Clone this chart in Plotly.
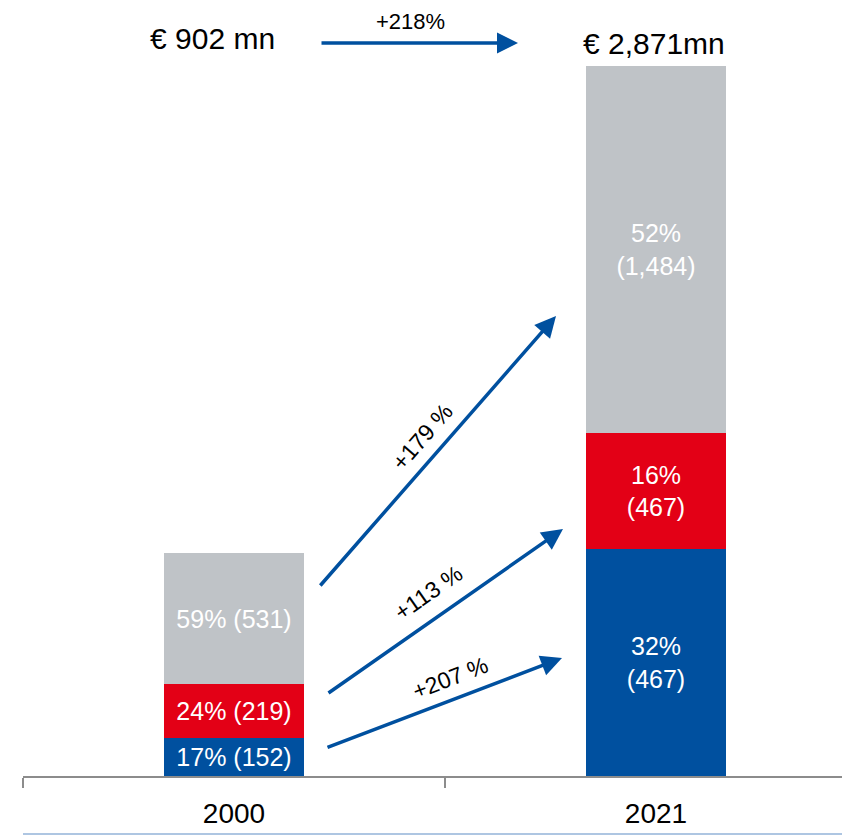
import plotly.graph_objects as go

# Data (EUR mn)
years = ['2000', '2021']
blue_vals = [152, 919]
red_vals = [219, 467]
gray_vals = [531, 1484]
blue_labels = ['17% (152)', '32%<br>(467)']
red_labels = ['24% (219)', '16%<br>(467)']
gray_labels = ['59% (531)', '52%<br>(1,484)']
totals = ['€ 902 mn', '€ 2,871mn']
total_growth = '+218%'
segment_growth = ['+207 %', '+113 %', '+179 %']

BLUE = '#00509F'
RED = '#E30016'
GRAY = '#BFC3C7'
FONT = 'Liberation Sans, Arial, sans-serif'

# Layout geometry; the page body adds an 8px offset, so the figure is 8px smaller
PAGE_OFF = 8
W, H = 850 - PAGE_OFF, 836 - PAGE_OFF
BASE_Y = 776 - PAGE_OFF    # plot bottom (figure px)
L, B = 23 - PAGE_OFF, H - BASE_Y
CAT_W = 422                # pixel distance between categories
X0 = 234                   # page x of first category centre
PX_PER_UNIT = 0.2473
YMAX = BASE_Y / PX_PER_UNIT


def dx(px):
    return (px - X0) / CAT_W


def dy(py):
    return (BASE_Y - (py - PAGE_OFF)) / PX_PER_UNIT


fig = go.Figure()
for vals, labels, color in [(blue_vals, blue_labels, BLUE),
                            (red_vals, red_labels, RED),
                            (gray_vals, gray_labels, GRAY)]:
    fig.add_trace(go.Bar(
        x=years, y=vals, text=labels, width=0.334,
        marker=dict(color=color, line=dict(width=0)),
        textposition='inside', insidetextanchor='middle', textangle=0,
        constraintext='none',
        textfont=dict(family=FONT, size=25, color='white'),
        hoverinfo='skip', showlegend=False,
    ))

annotations = []

# totals above the bars
annotations.append(dict(x=dx(212), y=dy(38), xref='x', yref='y', text=totals[0],
                        showarrow=False, font=dict(family=FONT, size=30, color='black')))
annotations.append(dict(x=dx(654), y=dy(43), xref='x', yref='y', text=totals[1],
                        showarrow=False, font=dict(family=FONT, size=30, color='black')))
annotations.append(dict(x=dx(410), y=dy(PAGE_OFF), xref='x', yref='y', text=total_growth,
                        yanchor='top', borderpad=0, showarrow=False,
                        font=dict(family=FONT, size=22, color='black')))
# top arrow
annotations.append(dict(x=dx(518), y=dy(43), ax=dx(320), ay=dy(43),
                        xref='x', yref='y', axref='x', ayref='y', text='',
                        showarrow=True, arrowhead=2, arrowsize=1.2, arrowwidth=3.5,
                        arrowcolor=BLUE))

# growth arrows between segments: (tail, head, label centre, angle)
arrows = [((326, 748), (562, 658), (450, 678), -21),
          ((327, 694), (563, 529), (428, 593), -35),
          ((319, 587), (556, 316), (422, 437), -49)]
for (t, h, c, ang), lab in zip(arrows, segment_growth):
    annotations.append(dict(x=dx(h[0]), y=dy(h[1]), ax=dx(t[0]), ay=dy(t[1]),
                            xref='x', yref='y', axref='x', ayref='y', text='',
                            showarrow=True, arrowhead=2, arrowsize=1.2, arrowwidth=3.5,
                            arrowcolor=BLUE))
    annotations.append(dict(x=dx(c[0]), y=dy(c[1]), xref='x', yref='y', text=lab,
                            textangle=ang, showarrow=False,
                            font=dict(family=FONT, size=23, color='black')))

line_y = -(834 - PAGE_OFF - BASE_Y) / BASE_Y

fig.update_layout(
    width=W, height=H,
    margin=dict(l=L, r=0, t=0, b=B),
    barmode='stack',
    bargap=0,
    plot_bgcolor='white',
    paper_bgcolor='white',
    annotations=annotations,
    xaxis=dict(
        type='category',
        range=[-0.5, -0.5 + (W - L) / CAT_W],
        showline=True, linecolor='#8C8C8C', linewidth=1.5,
        ticks='outside', tickson='boundaries', ticklen=10, tickcolor='#8C8C8C',
        tickwidth=1.5, ticklabelstandoff=12,
        tickfont=dict(family=FONT, size=28, color='black'),
        showgrid=False, zeroline=False, fixedrange=True,
    ),
    yaxis=dict(range=[0, YMAX], visible=False, showgrid=False, fixedrange=True),
    shapes=[dict(type='line', xref='paper', yref='paper',
                 x0=0, x1=1, y0=line_y, y1=line_y,
                 line=dict(color='#93B3D8', width=1.5))],
)

fig.write_html('out.html')
